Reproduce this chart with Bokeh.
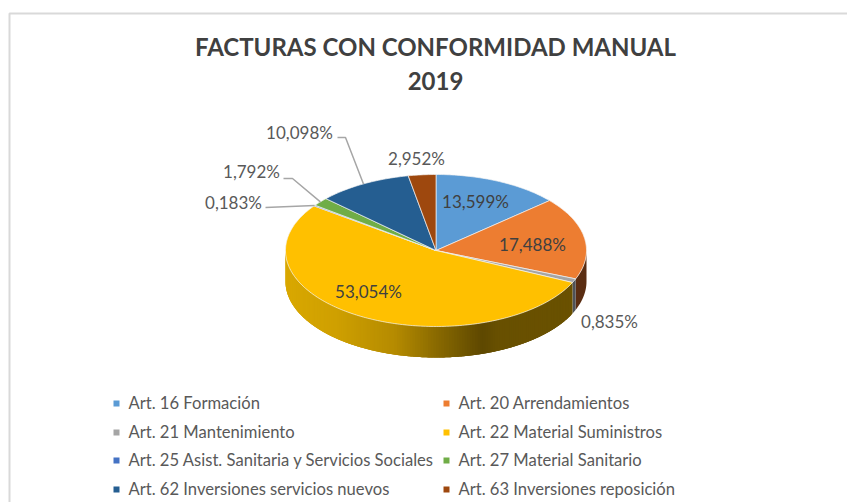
import numpy as np
from bokeh.plotting import figure
from bokeh.models import Range1d
from bokeh.core.properties import value
from bokeh.embed import file_html
from bokeh.resources import INLINE

title_lines = ["FACTURAS CON CONFORMIDAD MANUAL", "2019"]
categories = ["Art. 16 Formación", "Art. 20 Arrendamientos", "Art. 21 Mantenimiento",
              "Art. 22 Material Suministros", "Art. 25 Asist. Sanitaria y Servicios Sociales",
              "Art. 27 Material Sanitario", "Art. 62 Inversiones servicios nuevos",
              "Art. 63 Inversiones reposición"]
values = [13.599, 17.488, 0.835, 53.054, 0.183, 1.792, 10.098, 2.952]
colors = ["#5B9BD5", "#ED7D31", "#A5A5A5", "#FFC000", "#4472C4", "#70AD47", "#255E91", "#9E480E"]
side_colors = ["#345A7C", "#5A2D12", "#4F5258", "#6B5200", "#28426F", "#41662A", "#163754", "#5C2A08"]

# label positions (pixels of the page) and leader elbows
label_pos = [(475, 200.5), (532, 243.5), (609, 320.5), (368, 290.5), (233, 201.5), (251, 170.5), (299, 131.5), (416, 157.5)]
label_colors = ["#404040", "#404040", "#595959", "#404040", "#595959", "#595959", "#595959", "#595959"]
elbows = [None, None, None, None, [(265, 207)], [(283, 178), (292, 178)], [(337, 137), (345, 137)], None]

W, H = 847, 502
CX, CY, RX, RY, DEPTH = 435.5, 250.0, 150.5, 76.0, 31.0

p = figure(width=W, height=H, x_range=Range1d(0, W), y_range=Range1d(H, 0),
           toolbar_location=None, output_backend="svg", min_border=0,
           x_axis_location=None, y_axis_location=None, outline_line_color=None)
p.grid.visible = False

# chart frame (left and top edges only are visible in the crop)
p.line([9, 9, W], [H, 13, 13], line_color="#D9D9D9", line_width=2)

fractions = np.array(values) / sum(values)
cum = np.concatenate([[0], np.cumsum(fractions)]) * 2 * np.pi


def rim(theta, dz=0.0):
    return CX + RX * np.sin(theta), CY - RY * np.cos(theta) + dz


def lerp_hex(c1, c2, t):
    a = [int(c1[i:i + 2], 16) for i in (1, 3, 5)]
    b = [int(c2[i:i + 2], 16) for i in (1, 3, 5)]
    return "#%02x%02x%02x" % tuple(int(round(u + (v - u) * t)) for u, v in zip(a, b))


# gradient stops of the front wall, by horizontal position across the pie (0 left .. 1 right)
wall_stops = [(0.0, "#D9A800"), (0.18, "#CFA000"), (0.38, "#B58B00"), (0.515, "#8B6B00"),
              (0.67, "#5E4800"), (0.72, "#685000"), (1.0, "#6A5100")]


def wall_color(x):
    t = min(1.0, max(0.0, (x - (CX - RX)) / (2 * RX)))
    for (t0, c0), (t1, c1) in zip(wall_stops[:-1], wall_stops[1:]):
        if t <= t1:
            return lerp_hex(c0, c1, (t - t0) / (t1 - t0))
    return wall_stops[-1][1]


# side walls: visible part runs from 90 deg to 270 deg; strips overlap so no seams show
front0, front1 = np.pi / 2, 3 * np.pi / 2
step = np.radians(1.0)
for i in range(len(values)):
    a0, a1 = max(cum[i], front0), min(cum[i + 1], front1)
    if a1 <= a0:
        continue
    n = max(1, int((a1 - a0) / step)) if i == 3 else 1
    edges = np.linspace(a0, a1, n + 1)
    order = range(n) if i != 3 else range(n - 1, -1, -1)
    for k in order:
        e0, e1 = edges[k], edges[k + 1]
        stop = edges[min(k + 3, n)]
        ts = np.linspace(e0, stop, 6) if i == 3 else np.linspace(a0, a1, 24)
        x, y = rim(ts)
        xb, yb = rim(ts[::-1], DEPTH)
        col = wall_color(float(rim(0.5 * (e0 + e1))[0])) if i == 3 else side_colors[i]
        p.patch(np.concatenate([x, xb]), np.concatenate([y, yb]), fill_color=col, line_color=None)

# top faces
for i in range(len(values)):
    ts = np.linspace(cum[i], cum[i + 1], max(3, int((cum[i + 1] - cum[i]) / np.radians(1)) + 2))
    x, y = rim(ts)
    p.patch(np.concatenate([[CX], x]), np.concatenate([[CY], y]), fill_color=colors[i],
            line_color="#F4F4F4", line_width=0.8, line_alpha=0.85)

# leader lines, ending on the rim at the mid angle of the slice
for i, pts in enumerate(elbows):
    if not pts:
        continue
    ex, ey = rim(0.5 * (cum[i] + cum[i + 1]))
    p.line([q[0] for q in pts] + [float(ex)], [q[1] for q in pts] + [float(ey)],
           line_color="#A6A6A6", line_width=1.5)

# data labels
labels = [f"{v:.3f}%".replace(".", ",") for v in values]
p.text([q[0] for q in label_pos], [q[1] for q in label_pos], text=labels,
       text_font=value("Lato"), text_font_size="17px", text_color=label_colors,
       text_align="center", text_baseline="middle")

# title
p.text([435, 435], [46, 80], text=title_lines, text_font=value("Lato"), text_font_style="bold",
       text_font_size="24px", text_color="#404040", text_align="center", text_baseline="middle")

# legend
rows = [403, 432, 460, 489]
cols = [116, 446]
lx = [cols[i % 2] for i in range(len(categories))]
ly = [rows[i // 2] for i in range(len(categories))]
p.scatter(lx, ly, marker="square", size=6, fill_color=colors, line_color=None)
p.text([v + 12 for v in lx], [v - 0.5 for v in ly], text=categories, text_font=value("Lato"), text_font_size="16.6px",
       text_color="#595959", text_align="left", text_baseline="middle")

open("out.html", "w").write(file_html(p, INLINE))
